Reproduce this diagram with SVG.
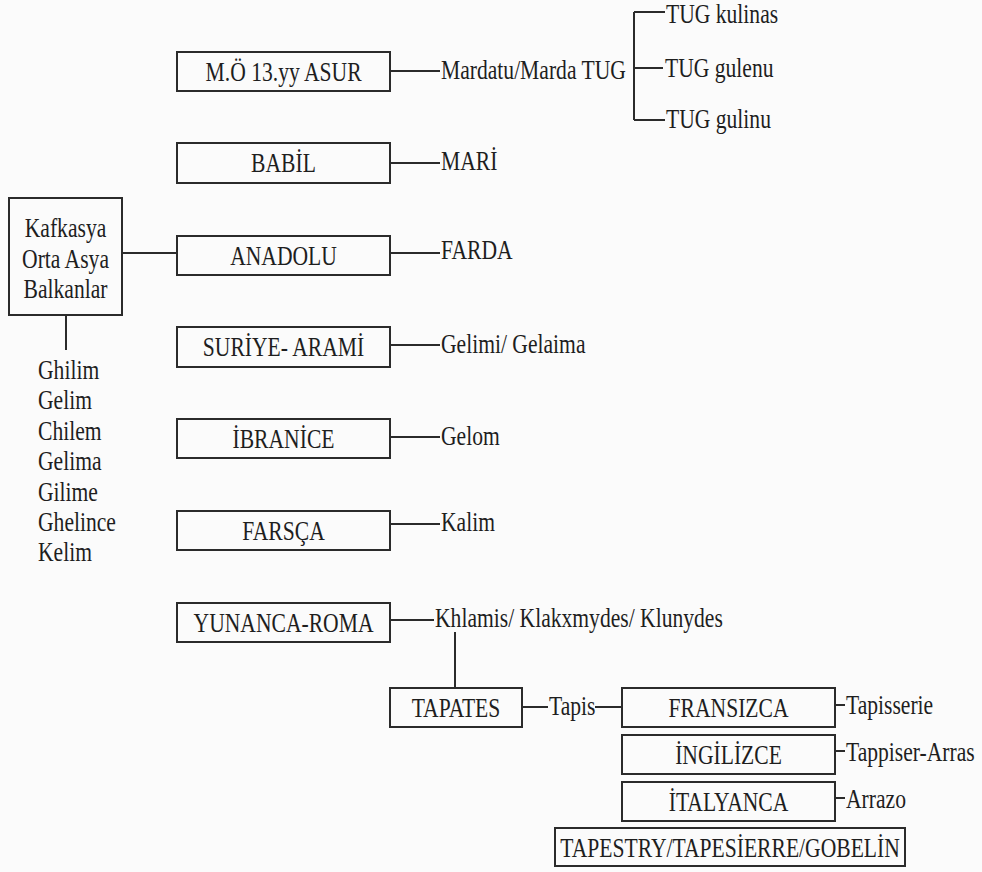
<svg xmlns="http://www.w3.org/2000/svg" width="982" height="872" viewBox="0 0 982 872">
<style>
.b{fill:none;stroke:#2b2b2b;stroke-width:2}
.ln{fill:none;stroke:#2b2b2b;stroke-width:2}
.t{font-family:"Liberation Serif","DejaVu Serif","Times New Roman",serif;font-size:27px;fill:#1e1e1e;transform-box:fill-box;transform:scaleX(0.8)}
.c{text-anchor:middle;transform-origin:center}
.s{text-anchor:start;transform-origin:left center}
</style>
<rect x="0" y="0" width="982" height="872" fill="#fbfbfb"/>
<g id="connectors">
<path class="ln" d="M390 71H440"/>
<path class="ln" d="M634 12V120M634 12H665M634 68H663M634 120H665"/>
<path class="ln" d="M390 163H440"/>
<path class="ln" d="M122 253H177M390 253H440"/>
<path class="ln" d="M66 315V350"/>
<path class="ln" d="M390 345H440"/>
<path class="ln" d="M390 437H440"/>
<path class="ln" d="M390 524H440"/>
<path class="ln" d="M390 620H434"/>
<path class="ln" d="M455 632V688"/>
<path class="ln" d="M522 707H548M595 707H622"/>
<path class="ln" d="M835 705H845M835 751H845M835 798H845"/>
</g>
<g id="asur"><rect class="b" x="177" y="52" width="213" height="39"/><text class="t c" x="283.5" y="81">M.Ö 13.yy ASUR</text></g>
<g id="mardatu"><text class="t s" x="441" y="79">Mardatu/Marda TUG</text></g>
<g id="tug-kulinas"><text class="t s" x="666" y="23">TUG kulinas</text></g>
<g id="tug-gulenu"><text class="t s" x="665" y="77">TUG gulenu</text></g>
<g id="tug-gulinu"><text class="t s" x="666" y="128">TUG gulinu</text></g>
<g id="babil"><rect class="b" x="177" y="143" width="213" height="40"/><text class="t c" x="283.5" y="172">BABİL</text></g>
<g id="mari"><text class="t s" x="441" y="170">MARİ</text></g>
<g id="kafkasya"><rect class="b" x="9" y="198" width="113" height="117"/>
<text class="t c" x="65.5" y="237">Kafkasya</text>
<text class="t c" x="65.5" y="268">Orta Asya</text>
<text class="t c" x="65.5" y="298">Balkanlar</text></g>
<g id="names">
<text class="t s" x="38" y="379">Ghilim</text>
<text class="t s" x="38" y="409">Gelim</text>
<text class="t s" x="38" y="440">Chilem</text>
<text class="t s" x="38" y="470">Gelima</text>
<text class="t s" x="38" y="501">Gilime</text>
<text class="t s" x="38" y="531">Ghelince</text>
<text class="t s" x="38" y="561">Kelim</text>
</g>
<g id="anadolu"><rect class="b" x="177" y="236" width="213" height="39"/><text class="t c" x="283.5" y="265">ANADOLU</text></g>
<g id="farda"><text class="t s" x="441" y="259">FARDA</text></g>
<g id="suriye"><rect class="b" x="177" y="327" width="213" height="40"/><text class="t c" x="283.5" y="356">SURİYE- ARAMİ</text></g>
<g id="gelimi"><text class="t s" x="441" y="353">Gelimi/ Gelaima</text></g>
<g id="ibranice"><rect class="b" x="177" y="419" width="213" height="39"/><text class="t c" x="283.5" y="448">İBRANİCE</text></g>
<g id="gelom"><text class="t s" x="441" y="445">Gelom</text></g>
<g id="farsca"><rect class="b" x="177" y="511" width="213" height="39"/><text class="t c" x="283.5" y="540">FARSÇA</text></g>
<g id="kalim"><text class="t s" x="441" y="531">Kalim</text></g>
<g id="yunanca"><rect class="b" x="177" y="603" width="213" height="39"/><text class="t c" x="283.5" y="632">YUNANCA-ROMA</text></g>
<g id="khlamis"><text class="t s" x="435" y="627">Khlamis/ Klakxmydes/ Klunydes</text></g>
<g id="tapates"><rect class="b" x="390" y="688" width="132" height="39"/><text class="t c" x="456" y="717">TAPATES</text></g>
<g id="tapis"><text class="t s" x="549" y="715">Tapis</text></g>
<g id="fransizca"><rect class="b" x="622" y="688" width="213" height="39"/><text class="t c" x="728.5" y="717">FRANSIZCA</text></g>
<g id="tapisserie"><text class="t s" x="846" y="714">Tapisserie</text></g>
<g id="ingilizce"><rect class="b" x="622" y="735" width="213" height="39"/><text class="t c" x="728.5" y="764">İNGİLİZCE</text></g>
<g id="tappiser"><text class="t s" x="846" y="761">Tappiser-Arras</text></g>
<g id="italyanca"><rect class="b" x="622" y="782" width="213" height="39"/><text class="t c" x="728.5" y="811">İTALYANCA</text></g>
<g id="arrazo"><text class="t s" x="846" y="808">Arrazo</text></g>
<g id="tapestry"><rect class="b" x="555" y="828" width="350" height="38"/><text class="t c" x="730" y="857">TAPESTRY/TAPESİERRE/GOBELİN</text></g>
</svg>
